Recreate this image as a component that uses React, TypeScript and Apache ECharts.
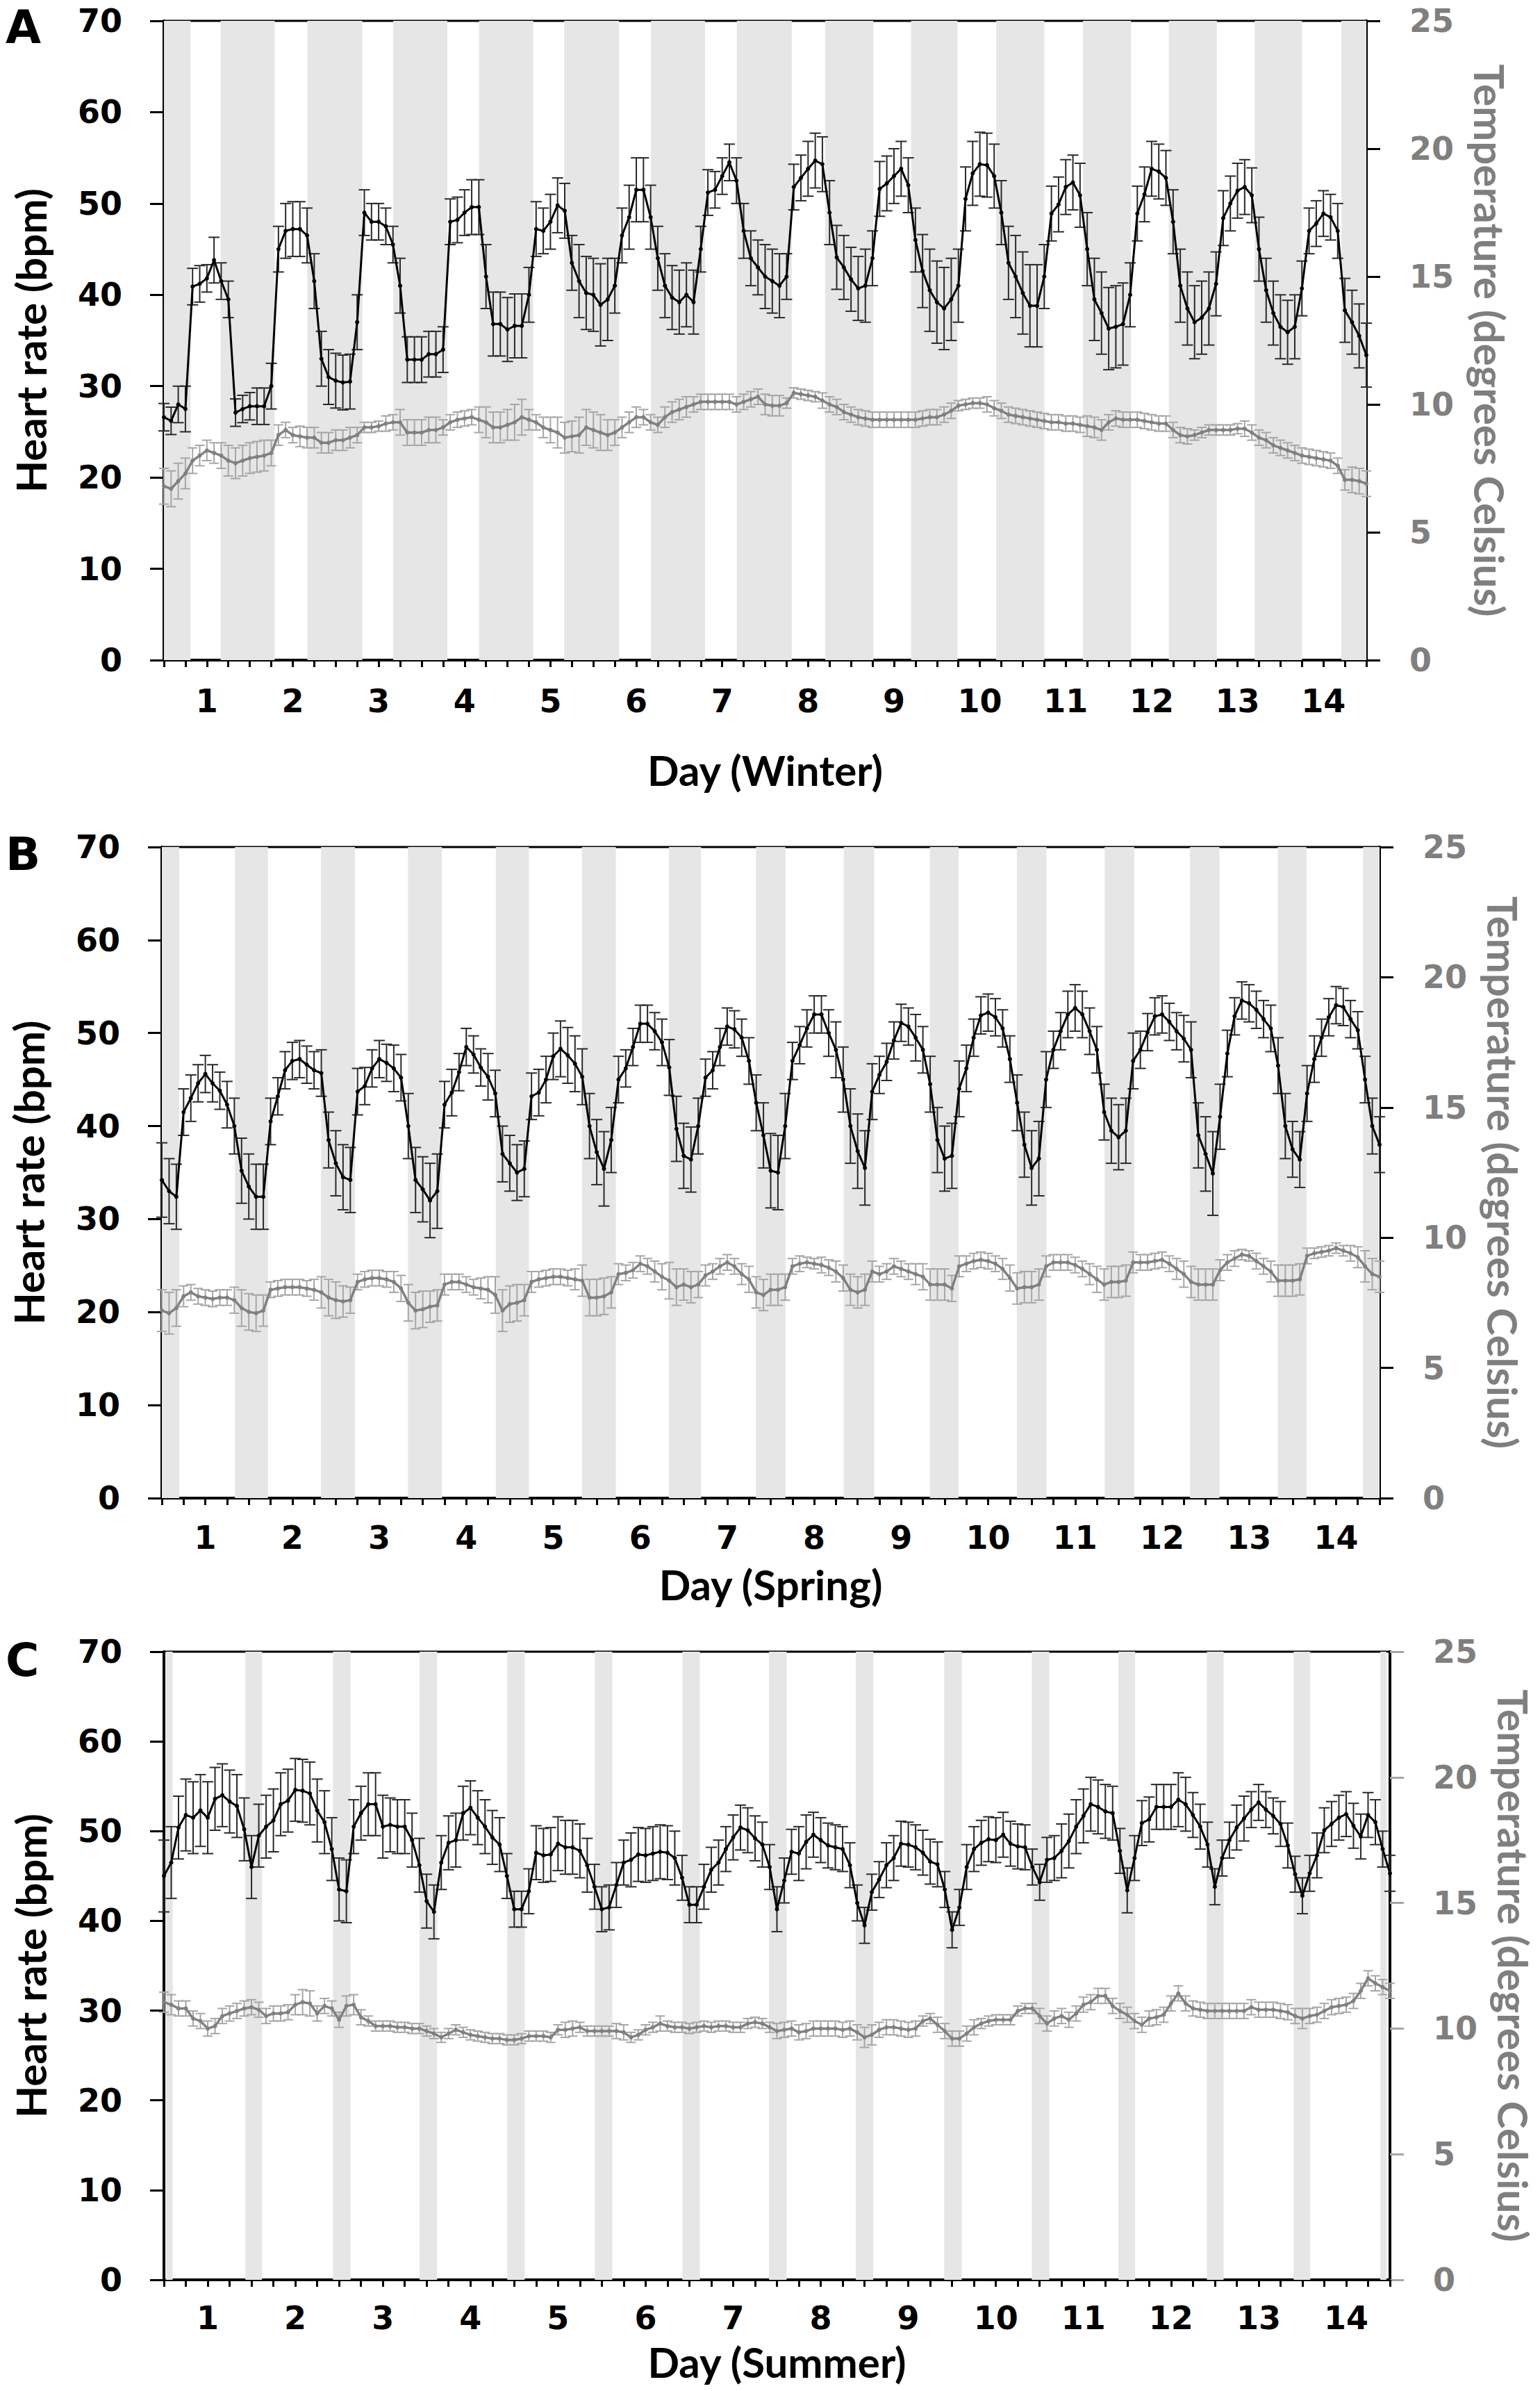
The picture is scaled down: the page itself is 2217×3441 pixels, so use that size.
import React, { useEffect, useRef } from "react";
import * as echarts from "echarts";

// Sampling times (day units): every 2 hours from 0.5 to 14.5
const sampleTimes: number[] = Array.from({ length: 169 }, (_, i) => 0.5 + i / 12);

// ---------- Panel A : Winter ----------
const hrWinter = [
  26.6, 26.2, 28, 27.5, 40.9, 41.2, 41.8, 43.8, 41.5, 39.5, 27.1, 27.5,
  27.8, 27.8, 27.8, 30, 45, 47, 47.2, 47.2, 46.5, 41.5, 33, 31,
  30.6, 30.4, 30.5, 37, 49, 48, 48, 47.5, 45.5, 41, 32.9, 32.9,
  32.9, 33.5, 33.5, 34, 48, 48.2, 49, 49.6, 49.6, 42, 36.8, 36.8,
  36.2, 36.6, 36.6, 40, 47.2, 47, 48, 49.8, 49.2, 43.5, 41.5, 40.2,
  40, 38.9, 39.5, 41, 46.5, 48.5, 51.5, 51.5, 48.5, 44, 41, 39.7,
  39.2, 40, 39.2, 45, 51.2, 51.5, 53, 54.5, 52.5, 47, 44, 43,
  42, 41.5, 41, 42, 51.8, 52.8, 53.8, 54.7, 54.3, 49, 44.1, 43,
  41.7, 40.7, 41, 44, 51.6, 52.2, 53, 53.8, 52, 46, 42.6, 40.5,
  39.2, 38.5, 39.5, 41, 50.5, 53.3, 54.3, 54.2, 53, 49, 43.5, 42,
  40.2, 38.8, 38.8, 42, 48.9, 49.9, 51.8, 52.3, 50.9, 45, 39.5, 38,
  36.3, 36.5, 36.8, 40, 48.9, 51, 53.8, 53.5, 52.8, 48, 41, 38.5,
  37, 37.5, 38.5, 41.2, 48.4, 50, 51.4, 51.8, 50.9, 45, 40.5, 38,
  36.5, 35.9, 36.5, 40.7, 47, 47.8, 48.9, 48.5, 47, 38.3, 37, 35.5,
  33.4,
];
const hrErrWinter = [
  1.5, 1.5, 2, 2.5, 2, 2, 1.5, 2.5, 2, 2, 1.5, 1.5,
  1.5, 2, 2, 2.5, 2.5, 3, 3, 3, 3, 3, 3, 3,
  3, 3, 3, 3, 2.5, 2, 2, 2, 2, 3, 2.5, 2.5,
  2.5, 2.5, 2.5, 2.5, 2.5, 2.5, 2.5, 3, 3, 3.5, 3.5, 3.5,
  3.5, 3.5, 3.5, 3, 3, 2.5, 3, 3, 3, 3, 4, 4,
  4, 4.5, 4.5, 3, 3, 3.5, 3.5, 3.5, 3.5, 3.5, 3.5, 3.5,
  3.5, 3.5, 3.5, 2.5, 2.5, 2, 2, 2, 2.5, 3, 3, 3,
  3.5, 3.5, 3.5, 2.5, 2.5, 2.5, 3, 3, 3, 3.5, 3.5, 3.5,
  3.5, 3.5, 4, 3, 3, 3, 3, 3, 3, 3.5, 4, 4.5,
  4.5, 4.5, 4.5, 4, 3.5, 3.5, 3.5, 3.5, 3.5, 3.5, 4, 4.5,
  4.5, 4.5, 4.5, 3.5, 3, 3, 3, 3, 3.5, 4, 4.5, 4.5,
  4.5, 4.5, 4.5, 3.5, 3, 3, 3, 3, 3, 3.5, 4, 4,
  4, 4, 4, 3.5, 3, 3, 3, 3, 3, 3.5, 3.5, 3.5,
  3.5, 3.5, 3.5, 3, 2.5, 2.5, 2.5, 2.5, 3, 3.5, 3.5, 3.5,
  3.5,
];
const tempWinter = [
  6.8, 6.7, 7.0, 7.3, 7.8, 8.0, 8.2, 8.1, 8.0, 7.8, 7.7, 7.8,
  7.9, 7.95, 8.0, 8.1, 8.8, 9.0, 8.8, 8.75, 8.7, 8.7, 8.5, 8.5,
  8.6, 8.6, 8.7, 8.8, 9.1, 9.1, 9.15, 9.25, 9.3, 9.3, 8.9, 8.9,
  8.9, 9.0, 9.0, 9.1, 9.3, 9.4, 9.45, 9.5, 9.4, 9.3, 9.1, 9.1,
  9.2, 9.3, 9.5, 9.4, 9.3, 9.1, 9.0, 8.9, 8.7, 8.75, 8.8, 9.1,
  9.0, 8.9, 8.8, 8.9, 9.1, 9.3, 9.5, 9.5, 9.3, 9.2, 9.5, 9.7,
  9.8, 9.9, 10.0, 10.1, 10.1, 10.1, 10.1, 10.1, 10.0, 10.1, 10.2, 10.3,
  10.0, 9.95, 9.95, 10.05, 10.45, 10.4, 10.35, 10.3, 10.15, 10.0, 9.9, 9.7,
  9.6, 9.5, 9.45, 9.4, 9.4, 9.4, 9.4, 9.4, 9.4, 9.4, 9.45, 9.5,
  9.5, 9.6, 9.75, 9.95, 10.0, 10.05, 10.05, 10.0, 9.85, 9.75, 9.6, 9.55,
  9.5, 9.45, 9.4, 9.35, 9.3, 9.3, 9.25, 9.25, 9.2, 9.15, 9.1, 9.0,
  9.3, 9.45, 9.4, 9.4, 9.4, 9.35, 9.3, 9.25, 9.25, 9.0, 8.8, 8.75,
  8.8, 8.9, 9.0, 9.0, 9.0, 9.0, 9.05, 9.05, 8.9, 8.7, 8.6, 8.4,
  8.3, 8.2, 8.1, 8.0, 7.95, 7.9, 7.85, 7.8, 7.6, 7.05, 7.05, 7.0,
  6.9,
];
const tempErrWinter = [
  0.7, 0.7, 0.7, 0.6, 0.5, 0.4, 0.4, 0.4, 0.5, 0.6, 0.6, 0.6,
  0.6, 0.6, 0.6, 0.5, 0.4, 0.3, 0.3, 0.4, 0.4, 0.4, 0.4, 0.4,
  0.4, 0.4, 0.4, 0.3, 0.2, 0.2, 0.2, 0.3, 0.3, 0.5, 0.5, 0.5,
  0.5, 0.5, 0.5, 0.3, 0.3, 0.3, 0.3, 0.3, 0.5, 0.6, 0.6, 0.6,
  0.6, 0.7, 0.7, 0.4, 0.3, 0.4, 0.5, 0.6, 0.6, 0.6, 0.7, 0.7,
  0.7, 0.7, 0.6, 0.5, 0.4, 0.4, 0.4, 0.3, 0.3, 0.3, 0.4, 0.4,
  0.4, 0.4, 0.3, 0.3, 0.3, 0.3, 0.3, 0.3, 0.3, 0.3, 0.3, 0.3,
  0.4, 0.4, 0.4, 0.2, 0.2, 0.2, 0.2, 0.2, 0.3, 0.3, 0.3, 0.3,
  0.3, 0.3, 0.3, 0.3, 0.3, 0.3, 0.3, 0.3, 0.3, 0.3, 0.3, 0.3,
  0.3, 0.3, 0.3, 0.2, 0.2, 0.2, 0.2, 0.3, 0.3, 0.3, 0.3, 0.3,
  0.3, 0.3, 0.3, 0.3, 0.3, 0.3, 0.3, 0.3, 0.3, 0.4, 0.4, 0.4,
  0.3, 0.3, 0.3, 0.3, 0.3, 0.3, 0.3, 0.3, 0.3, 0.3, 0.3, 0.3,
  0.2, 0.2, 0.2, 0.2, 0.2, 0.2, 0.2, 0.3, 0.3, 0.3, 0.3, 0.3,
  0.3, 0.3, 0.3, 0.3, 0.3, 0.3, 0.3, 0.3, 0.3, 0.4, 0.5, 0.5,
  0.5,
];
const nightsWinter = [
  [0.5, 0.81], [1.16, 1.79], [2.17, 2.81], [3.17, 3.8], [4.17, 4.8], [5.16, 5.8], [6.17, 6.8],
  [7.17, 7.81], [8.2, 8.76], [9.2, 9.74], [10.19, 10.75], [11.2, 11.76], [12.2, 12.76],
  [13.2, 13.75], [14.21, 14.5],
];

// ---------- Panel B : Spring ----------
const hrSpring = [
  34.2, 33, 32.4, 41.5, 43, 44.6, 45.6, 44.6, 43.8, 42.3, 40, 35.2,
  33.5, 32.4, 32.4, 40.5, 43.2, 46, 47, 47.2, 46.6, 46, 45.7, 38.5,
  36, 34.5, 34.2, 43.7, 44.3, 46.2, 47.2, 46.8, 46.2, 45.2, 40, 34.2,
  33.2, 32, 33, 42.3, 43.6, 45.8, 48.5, 47.7, 46.3, 45.3, 43.5, 37,
  36, 35, 35.4, 43.2, 43.6, 45, 47.5, 48.3, 47.6, 46.7, 45.3, 40,
  37.2, 35.4, 38.5, 45, 46.2, 48.5, 51, 51, 50.2, 49, 46.3, 39.7,
  36.8, 36.4, 40, 45.2, 46, 48.5, 50.7, 50.4, 49.5, 47, 42.5, 39,
  35.2, 35, 40, 47, 48.7, 50.5, 52, 52, 50, 48.2, 45, 40,
  37.3, 35.5, 43.7, 45.5, 46.9, 49.2, 51.1, 50.7, 49.5, 48.2, 44.5, 38.5,
  36.5, 36.8, 44, 46.2, 49.5, 51.9, 52.2, 51.7, 50.5, 47.2, 42.5, 38,
  35.5, 36.5, 45, 48.2, 50.2, 52, 52.7, 52, 50.2, 48.2, 41.5, 39.5,
  38.8, 39.5, 47, 48.2, 50.1, 51.8, 52, 51.2, 50.2, 49.4, 48.2, 39,
  37, 34.9, 41, 47.8, 51.8, 53.5, 53.2, 52.5, 51.5, 50.5, 46.5, 40,
  37.5, 36.4, 43.5, 47.2, 49.5, 51.7, 53, 52.8, 51.5, 50.3, 45, 40,
  38,
];
const hrErrSpring = [
  4, 3.5, 3.5, 2.5, 2.5, 2, 2, 2, 2, 2.5, 3, 3.5,
  3.5, 3.5, 3.5, 2.5, 2, 2, 2, 2, 2, 2, 2.5, 3,
  3.5, 3.5, 3.5, 2.5, 2, 2, 2, 2, 2.5, 2.5, 3.5, 3.5,
  3.5, 4, 4, 2.5, 2.5, 2, 2, 2, 2, 2.5, 2.5, 3,
  3, 3, 3, 2.5, 2.5, 2.5, 2.5, 3, 3, 3, 3, 3.5,
  3.5, 4, 3.5, 2.5, 2, 2, 2, 2, 2, 2.5, 3, 3.5,
  3.5, 3.5, 3, 2, 2, 2, 2, 2, 2, 2.5, 3, 3.5,
  4, 4, 3.5, 2, 2, 2, 2, 2, 2.5, 3, 3.5, 4,
  4, 4, 3, 2, 2, 2, 2, 2, 2.5, 2.5, 3, 3.5,
  3.5, 3.5, 3, 2.5, 2, 2, 2, 2, 2, 2.5, 3, 3.5,
  4, 4, 3, 2, 2, 2.5, 2.5, 2.5, 2.5, 2.5, 3, 3.5,
  3.5, 3.5, 3, 2, 2, 2, 2, 2, 2, 2.5, 3, 3.5,
  4, 4.5, 3.5, 2.5, 2, 2, 2, 2, 2, 2.5, 3, 3.5,
  3, 3, 3, 2.5, 2, 2, 2, 2, 2, 2, 2.5, 3,
  3,
];
const tempSpring = [
  7.2, 7.1, 7.3, 7.75, 7.9, 7.75, 7.7, 7.65, 7.7, 7.7, 7.6, 7.3,
  7.15, 7.1, 7.2, 8.0, 8.05, 8.1, 8.1, 8.1, 8.05, 8.0, 7.9, 7.7,
  7.6, 7.55, 7.6, 8.3, 8.4, 8.45, 8.45, 8.4, 8.3, 8.05, 7.5, 7.2,
  7.25, 7.35, 7.4, 8.2, 8.3, 8.3, 8.2, 8.1, 8.05, 8.0, 7.8, 7.2,
  7.45, 7.5, 7.6, 8.3, 8.4, 8.45, 8.5, 8.5, 8.45, 8.4, 8.35, 7.7,
  7.7, 7.75, 7.9, 8.6, 8.65, 8.75, 9.0, 8.9, 8.7, 8.5, 8.35, 8.1,
  8.2, 8.1, 8.2, 8.55, 8.7, 8.9, 9.05, 8.9, 8.6, 8.4, 7.9, 7.8,
  8.0, 8.0, 8.1, 8.9, 9.0, 9.05, 9.0, 8.95, 8.85, 8.7, 8.45, 8.0,
  7.9, 8.0, 8.7, 8.6, 8.7, 8.9, 8.8, 8.7, 8.6, 8.5, 8.2, 8.2,
  8.2, 8.05, 8.9, 9.0, 9.1, 9.15, 9.1, 9.0, 8.8, 8.45, 8.05, 8.1,
  8.1, 8.2, 8.9, 9.05, 9.05, 9.05, 8.95, 8.8, 8.6, 8.4, 8.2, 8.3,
  8.3, 8.35, 9.05, 9.05, 9.05, 9.1, 9.15, 9.0, 8.8, 8.6, 8.3, 8.2,
  8.2, 8.2, 8.75, 9.05, 9.2, 9.35, 9.3, 9.1, 8.9, 8.7, 8.35, 8.35,
  8.35, 8.4, 9.3, 9.4, 9.45, 9.5, 9.6, 9.5, 9.4, 9.25, 8.9, 8.6,
  8.5,
];
const tempErrSpring = [
  0.8, 0.8, 0.7, 0.4, 0.3, 0.3, 0.3, 0.3, 0.3, 0.3, 0.5, 0.7,
  0.7, 0.7, 0.6, 0.3, 0.3, 0.3, 0.3, 0.3, 0.3, 0.4, 0.6, 0.7,
  0.7, 0.6, 0.5, 0.3, 0.3, 0.3, 0.3, 0.3, 0.4, 0.5, 0.7, 0.7,
  0.7, 0.6, 0.6, 0.4, 0.3, 0.3, 0.3, 0.3, 0.4, 0.5, 0.7, 0.8,
  0.7, 0.7, 0.6, 0.4, 0.3, 0.3, 0.3, 0.3, 0.3, 0.4, 0.6, 0.7,
  0.7, 0.7, 0.6, 0.4, 0.3, 0.3, 0.3, 0.3, 0.4, 0.5, 0.7, 0.7,
  0.6, 0.6, 0.5, 0.4, 0.3, 0.3, 0.3, 0.3, 0.4, 0.5, 0.6, 0.6,
  0.6, 0.6, 0.5, 0.3, 0.3, 0.2, 0.2, 0.3, 0.3, 0.4, 0.5, 0.6,
  0.6, 0.6, 0.4, 0.3, 0.3, 0.3, 0.3, 0.3, 0.4, 0.5, 0.6, 0.6,
  0.6, 0.5, 0.4, 0.3, 0.3, 0.3, 0.3, 0.3, 0.4, 0.5, 0.6, 0.6,
  0.6, 0.6, 0.4, 0.3, 0.3, 0.3, 0.3, 0.3, 0.4, 0.5, 0.6, 0.6,
  0.6, 0.6, 0.4, 0.3, 0.3, 0.3, 0.3, 0.3, 0.4, 0.5, 0.6, 0.6,
  0.6, 0.6, 0.4, 0.3, 0.3, 0.2, 0.2, 0.3, 0.3, 0.4, 0.6, 0.6,
  0.6, 0.6, 0.3, 0.2, 0.2, 0.2, 0.2, 0.2, 0.3, 0.4, 0.6, 0.6,
  0.6,
];
const nightsSpring = [
  [0.5, 0.7], [1.34, 1.72], [2.33, 2.72], [3.33, 3.72], [4.34, 4.72], [5.33, 5.72], [6.33, 6.7],
  [7.33, 7.67], [8.34, 8.69], [9.33, 9.66], [10.33, 10.67], [11.34, 11.68], [12.32, 12.66],
  [13.33, 13.66], [14.31, 14.5],
];

// ---------- Panel C : Summer ----------
const hrSummer = [
  45, 46.5, 50.4, 51.8, 51.5, 52.3, 51.5, 53.6, 54, 53.3, 52.8, 50.2,
  46, 49.5, 50.5, 51.2, 53, 53.4, 54.6, 54.5, 54.2, 52.3, 51, 48,
  43.5, 43.3, 50.5, 52, 53, 53, 50.5, 50.7, 50.5, 50.5, 49, 46.2,
  42.2, 41, 46.5, 48.7, 49, 52, 52.6, 51.5, 50.5, 49.3, 48.5, 45,
  41.3, 41.3, 43.3, 47.6, 47.3, 47.4, 48.6, 48.2, 48.2, 47.8, 46.2, 43.8,
  41.3, 41.5, 44, 46.5, 46.8, 47.4, 47.3, 47.5, 47.7, 47.6, 47, 44.8,
  41.8, 41.8, 43.8, 45.7, 46.5, 48, 49.3, 50.4, 50.1, 49.2, 48.5, 46,
  41.3, 44.5, 47.7, 47.5, 48.8, 49.6, 49, 48.4, 48.2, 48, 46.2, 42,
  39.5, 43.2, 44.6, 46.2, 47, 48.6, 48.5, 48.2, 47.6, 46.6, 46.3, 43.5,
  39, 41.5, 46, 48, 48.7, 49.1, 49, 49.6, 48.6, 48.3, 48.2, 46,
  44.3, 46.8, 47, 47.8, 48.9, 50.5, 51.7, 53, 52.7, 52.2, 52, 47.8,
  43.4, 47, 50.9, 51.3, 52.7, 52.7, 52.7, 53.5, 53, 51.8, 50.5, 48.5,
  43.8, 47, 49, 50.4, 51.4, 52.4, 53.2, 52.4, 51.7, 50.8, 48.4, 45.2,
  42.8, 45.3, 47.3, 50.1, 50.8, 51.5, 51.9, 50.6, 49.4, 51.8, 51, 48,
  45.3,
];
const hrErrSummer = [
  4, 4, 3.5, 4, 4, 4, 4, 3.5, 3.5, 3.5, 3.5, 3.5,
  3.5, 3.5, 3.5, 3.5, 3.5, 3.5, 3.5, 3.5, 3.5, 3.5, 3.5, 3.5,
  3.5, 3.5, 3, 3, 3.5, 3.5, 3.5, 3, 3, 3, 3, 3,
  3, 3, 3, 3, 3, 3, 3, 3, 3, 3, 3, 2.5,
  2, 2, 2.5, 3, 3, 3, 3, 3, 3, 3, 3, 2.5,
  2.5, 2.5, 2.5, 2.5, 3, 3, 3, 3, 3, 3, 3, 2.5,
  2, 2, 2.5, 2.5, 2.5, 2.5, 2.5, 2.5, 2.5, 2.5, 2.5, 2.5,
  2.5, 2.5, 2.5, 3, 3, 2.5, 2.5, 2.5, 2.5, 2.5, 2.5, 2,
  2, 2, 2, 2.5, 2.5, 2.5, 2.5, 2.5, 2.5, 2.5, 2.5, 2,
  2, 2, 2.5, 2.5, 2.5, 2.5, 2.5, 2.5, 2.5, 2.5, 2.5, 2,
  2, 2.5, 2.5, 3, 3, 3, 3, 3, 3, 3, 3, 2.5,
  2.5, 2.5, 2.5, 2.5, 2.5, 2.5, 2.5, 3, 3, 2.5, 2.5, 2.5,
  2, 2, 2, 2.5, 2.5, 2, 2, 2, 2, 2.5, 2.5, 2,
  2, 2, 2.5, 2.5, 2.5, 2.5, 2.5, 2.5, 2.5, 2.5, 2.5, 2,
  2,
];
const tempSummer = [
  11.05, 10.95, 10.8, 10.8, 10.4, 10.3, 10.0, 10.1, 10.5, 10.6, 10.7, 10.8,
  10.85, 10.75, 10.5, 10.6, 10.6, 10.65, 10.95, 11.05, 11.0, 10.6, 10.9, 10.8,
  10.35, 10.9, 10.95, 10.45, 10.3, 10.1, 10.1, 10.1, 10.05, 10.05, 10.0, 10.0,
  9.9, 9.8, 9.65, 9.8, 9.95, 9.85, 9.75, 9.7, 9.65, 9.6, 9.6, 9.55,
  9.55, 9.6, 9.7, 9.7, 9.7, 9.65, 9.95, 9.95, 10.0, 10.05, 9.9, 9.9,
  9.9, 9.9, 9.9, 9.85, 9.65, 9.75, 9.95, 10.05, 10.2, 10.1, 10.05, 10.05,
  10.0, 10.05, 10.1, 10.05, 10.1, 10.1, 10.05, 10.05, 10.2, 10.25, 10.2, 10.05,
  9.9, 9.95, 10.0, 9.85, 9.9, 10.0, 10.0, 10.0, 10.0, 9.95, 10.0, 9.85,
  9.65, 9.75, 9.95, 10.05, 10.05, 10.0, 9.95, 10.0, 10.3, 10.4, 10.15, 9.9,
  9.6, 9.6, 9.8, 10.05, 10.2, 10.3, 10.35, 10.35, 10.35, 10.7, 10.8, 10.8,
  10.5, 10.2, 10.4, 10.5, 10.35, 10.6, 10.95, 11.05, 11.3, 11.3, 10.9, 10.7,
  10.55, 10.3, 10.15, 10.4, 10.45, 10.55, 11.0, 11.4, 11.0, 10.8, 10.75, 10.7,
  10.7, 10.7, 10.7, 10.7, 10.7, 10.85, 10.75, 10.75, 10.75, 10.7, 10.65, 10.5,
  10.4, 10.5, 10.55, 10.7, 10.85, 10.9, 10.95, 11.1, 11.5, 12.0, 11.8, 11.65,
  11.5,
];
const tempErrSummer = [
  0.4, 0.4, 0.3, 0.3, 0.3, 0.3, 0.3, 0.3, 0.3, 0.3, 0.3, 0.3,
  0.3, 0.3, 0.3, 0.3, 0.3, 0.3, 0.4, 0.5, 0.5, 0.3, 0.3, 0.3,
  0.3, 0.4, 0.4, 0.3, 0.2, 0.2, 0.2, 0.2, 0.2, 0.2, 0.2, 0.2,
  0.2, 0.2, 0.2, 0.2, 0.2, 0.2, 0.2, 0.2, 0.2, 0.2, 0.2, 0.2,
  0.2, 0.2, 0.2, 0.2, 0.2, 0.2, 0.2, 0.3, 0.3, 0.2, 0.2, 0.2,
  0.2, 0.2, 0.3, 0.3, 0.2, 0.2, 0.2, 0.2, 0.3, 0.2, 0.2, 0.2,
  0.2, 0.2, 0.2, 0.2, 0.2, 0.2, 0.2, 0.2, 0.2, 0.2, 0.2, 0.2,
  0.3, 0.3, 0.3, 0.3, 0.3, 0.3, 0.3, 0.3, 0.3, 0.3, 0.3, 0.3,
  0.4, 0.4, 0.3, 0.3, 0.3, 0.3, 0.3, 0.3, 0.2, 0.2, 0.3, 0.3,
  0.3, 0.3, 0.3, 0.3, 0.2, 0.2, 0.2, 0.2, 0.2, 0.2, 0.2, 0.2,
  0.3, 0.3, 0.3, 0.3, 0.3, 0.3, 0.3, 0.3, 0.3, 0.3, 0.3, 0.3,
  0.3, 0.3, 0.3, 0.3, 0.3, 0.3, 0.3, 0.3, 0.3, 0.3, 0.3, 0.3,
  0.3, 0.3, 0.3, 0.3, 0.3, 0.3, 0.3, 0.3, 0.3, 0.3, 0.3, 0.3,
  0.4, 0.3, 0.3, 0.3, 0.3, 0.3, 0.3, 0.3, 0.3, 0.3, 0.3, 0.3,
  0.3,
];
const nightsSummer = [
  [0.52, 0.6], [1.43, 1.62], [2.43, 2.63], [3.42, 3.62], [4.42, 4.62], [5.42, 5.62], [6.42, 6.62],
  [7.41, 7.61], [8.4, 8.6], [9.41, 9.61], [10.41, 10.61], [11.4, 11.59], [12.41, 12.6],
  [13.4, 13.59], [14.39, 14.46],
];

// Tick labels / axis ranges
const hrTicks = { min: 0, max: 70, interval: 10 };
const tempTicks = { min: 0, max: 25, interval: 5 };
const dayRange = { min: 0.5, max: 14.5, interval: 0.25 };
const panelLetters = ["A", "B", "C"];
const dayTitles = ["Day (Winter)", "Day (Spring)", "Day (Summer)"];
const hrTitle = "Heart rate (bpm)";
const tempTitle = "Temperature (degrees Celsius)";

const panels = [
  { hr: hrWinter, hrErr: hrErrWinter, temp: tempWinter, tempErr: tempErrWinter, nights: nightsWinter },
  { hr: hrSpring, hrErr: hrErrSpring, temp: tempSpring, tempErr: tempErrSpring, nights: nightsSpring },
  { hr: hrSummer, hrErr: hrErrSummer, temp: tempSummer, tempErr: tempErrSummer, nights: nightsSummer },
];

// Layout (pixels)
const layout = [
  { left: 236, top: 30, width: 1731, height: 920, xGap: 128, letterTop: 6, labelMargin: 36, rightTick: "#000" },
  { left: 233, top: 1219, width: 1753, height: 937, xGap: 94, letterTop: 1196, labelMargin: 34, rightTick: "#000" },
  { left: 236, top: 2377, width: 1765, height: 904, xGap: 88, letterTop: 2356, labelMargin: 32, rightTick: "#a6a6a6" },
];

const TICK_FONT = "DejaVu Sans";
const TITLE_FONT = "Lato";
const GRAY = "#7f7f7f";

function errRender(color: string, cap: number, lw: number) {
  return (params: any, api: any) => {
    const x = api.value(0);
    const lo = api.coord([x, api.value(1)]);
    const hi = api.coord([x, api.value(2)]);
    const h = cap / 2;
    const style = { stroke: color, lineWidth: lw };
    return {
      type: "group",
      children: [
        { type: "line", shape: { x1: lo[0], y1: lo[1], x2: hi[0], y2: hi[1] }, style },
        { type: "line", shape: { x1: lo[0] - h, y1: lo[1], x2: lo[0] + h, y2: lo[1] }, style },
        { type: "line", shape: { x1: hi[0] - h, y1: hi[1], x2: hi[0] + h, y2: hi[1] }, style },
      ],
    };
  };
}

function buildOption() {
  const grid: any[] = [];
  const xAxis: any[] = [];
  const yAxis: any[] = [];
  const series: any[] = [];
  const graphic: any[] = [];

  panels.forEach((p, i) => {
    const L = layout[i];
    grid.push({
      left: L.left, top: L.top, width: L.width, height: L.height,
      show: true, borderColor: "#000", borderWidth: 3, backgroundColor: "transparent",
    });
    xAxis.push({
      type: "value", gridIndex: i, ...dayRange,
      axisLine: { show: true, onZero: false, lineStyle: { color: "#000", width: 4 } },
      axisTick: { show: true, length: 10, lineStyle: { color: "#000", width: 3 } },
      axisLabel: {
        formatter: (v: number) => (Math.abs(v - Math.round(v)) < 1e-6 ? String(Math.round(v)) : ""),
        fontFamily: TICK_FONT, fontWeight: "bold", fontSize: 46, color: "#000", margin: L.labelMargin,
      },
      splitLine: { show: false },
      name: dayTitles[i], nameLocation: "middle", nameGap: L.xGap,
      nameTextStyle: { fontFamily: TITLE_FONT, fontWeight: "bold", fontSize: 60, color: "#000" },
    });
    yAxis.push({
      type: "value", gridIndex: i, position: "left", ...hrTicks,
      axisLine: { show: true, onZero: false, lineStyle: { color: "#000", width: 4 } },
      axisTick: { show: true, length: 20, lineStyle: { color: "#000", width: 3 } },
      axisLabel: { fontFamily: TICK_FONT, fontWeight: "bold", fontSize: 46, color: "#000", margin: 60 },
      splitLine: { show: false },
      name: hrTitle, nameLocation: "middle", nameRotate: 90, nameGap: 162,
      nameTextStyle: { fontFamily: TITLE_FONT, fontWeight: "bold", fontSize: 60, color: "#000" },
    });
    yAxis.push({
      type: "value", gridIndex: i, position: "right", ...tempTicks,
      axisLine: { show: true, onZero: false, lineStyle: { color: "#000", width: 4 } },
      axisTick: { show: true, length: 20, lineStyle: { color: L.rightTick, width: 3 } },
      axisLabel: { fontFamily: TICK_FONT, fontWeight: "bold", fontSize: 46, color: GRAY, margin: 62 },
      splitLine: { show: false },
      name: tempTitle, nameLocation: "middle", nameRotate: -90, nameGap: 148,
      nameTextStyle: { fontFamily: TITLE_FONT, fontWeight: "bold", fontSize: 60, color: GRAY },
    });

    const yHr = 2 * i;
    const yT = 2 * i + 1;

    series.push({
      type: "custom", coordinateSystem: "cartesian2d", xAxisIndex: i, yAxisIndex: yHr,
      silent: true, z: 1, clip: true,
      data: p.nights.map(([a, b]) => [a, b]),
      encode: { x: [0, 1] },
      renderItem: (params: any, api: any) => {
        const p0 = api.coord([api.value(0), hrTicks.max]);
        const p1 = api.coord([api.value(1), hrTicks.min]);
        return {
          type: "rect",
          shape: { x: p0[0], y: p0[1], width: p1[0] - p0[0], height: p1[1] - p0[1] },
          style: { fill: "#e6e6e6" },
        };
      },
    });
    series.push({
      type: "custom", coordinateSystem: "cartesian2d", xAxisIndex: i, yAxisIndex: yT,
      silent: true, z: 2,
      data: sampleTimes.map((t, k) => [t, p.temp[k] - p.tempErr[k], p.temp[k] + p.tempErr[k]]),
      encode: { x: 0, y: [1, 2] },
      renderItem: errRender("#a6a6a6", 14, 2),
    });
    series.push({
      type: "line", xAxisIndex: i, yAxisIndex: yT, z: 3, silent: true,
      data: sampleTimes.map((t, k) => [t, p.temp[k]]),
      symbol: "circle", symbolSize: 6, showSymbol: true,
      itemStyle: { color: "#808080" }, lineStyle: { color: "#808080", width: 3.5 },
    });
    series.push({
      type: "custom", coordinateSystem: "cartesian2d", xAxisIndex: i, yAxisIndex: yHr,
      silent: true, z: 4,
      data: sampleTimes.map((t, k) => [t, p.hr[k] - p.hrErr[k], p.hr[k] + p.hrErr[k]]),
      encode: { x: 0, y: [1, 2] },
      renderItem: errRender("#2a2a2a", 16, 2),
    });
    series.push({
      type: "line", xAxisIndex: i, yAxisIndex: yHr, z: 5, silent: true,
      data: sampleTimes.map((t, k) => [t, p.hr[k]]),
      symbol: "circle", symbolSize: 6, showSymbol: true,
      itemStyle: { color: "#000" }, lineStyle: { color: "#000", width: 3 },
    });

    graphic.push({
      type: "text", x: 8, y: L.letterTop,
      style: {
        text: panelLetters[i], fontFamily: TICK_FONT, fontWeight: "bold", fontSize: 66,
        fill: "#000", verticalAlign: "top", align: "left",
      },
    });
  });

  return { animation: false, backgroundColor: "#fff", grid, xAxis, yAxis, series, graphic };
}

export default function App() {
  const ref = useRef<HTMLDivElement>(null);
  useEffect(() => {
    if (!ref.current) return;
    const chart = echarts.init(ref.current, undefined, { renderer: "svg", width: 2217, height: 3441 });
    chart.setOption(buildOption() as any);
    return () => chart.dispose();
  }, []);
  return (
    <div
      ref={ref}
      style={{ position: "absolute", left: 0, top: 0, width: 2217, height: 3441, background: "#fff" }}
    />
  );
}
